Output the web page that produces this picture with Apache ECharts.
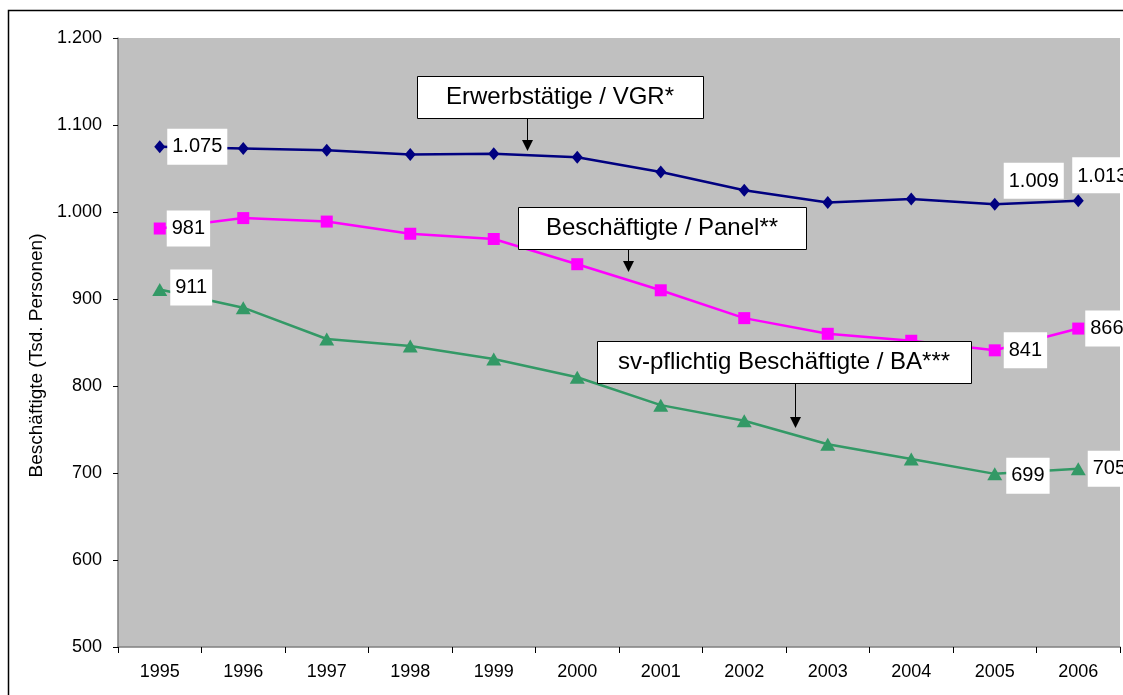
<!DOCTYPE html>
<html>
<head>
<meta charset="utf-8">
<title>Beschäftigte</title>
<script src="https://cdn.jsdelivr.net/npm/echarts@6/dist/echarts.min.js"></script>
<style>
html, body { margin: 0; padding: 0; background: #fff; }
#container { width: 1123px; height: 695px; }
</style>
</head>
<body>
<div id="container"></div>
<script>
// Jahre
var years = ['1995', '1996', '1997', '1998', '1999', '2000', '2001', '2002', '2003', '2004', '2005', '2006'];
// Erwerbstätige / VGR*
var vgr = [1075, 1073, 1071, 1066, 1067, 1063, 1046, 1025, 1011, 1015, 1009, 1013];
// Beschäftigte / Panel**
var panel = [981, 993, 989, 975, 969, 940, 910, 878, 860, 852, 841, 866];
// sv-pflichtig Beschäftigte / BA***
var ba = [911, 890, 854, 846, 831, 810, 778, 760, 733, 716, 699, 705];

var fmt = function (v) {
	return String(v).replace(/\B(?=(\d{3})+(?!\d))/g, '.');
};

var labelBase = {
	show: true,
	color: '#000',
	fontFamily: 'Liberation Sans',
	fontSize: 20,
	backgroundColor: '#fff',
	padding: [9, 5, 7, 5],
	formatter: function (p) { return fmt(p.value); }
};

// nur bestimmte Punkte beschriften
function withLabels(values, labels) {
	return values.map(function (v, i) {
		if (labels[i]) {
			return { value: v, label: Object.assign({}, labelBase, labels[i]) };
		}
		return v;
	});
}

var myChart = echarts.init(document.getElementById('container'));

var option = {
	animation: false,
	backgroundColor: '#fff',
	grid: { left: 118, top: 38, right: 3, bottom: 48, show: true, backgroundColor: '#C0C0C0', borderWidth: 0 },
	xAxis: {
		type: 'category',
		data: years,
		boundaryGap: true,
		axisLine: { lineStyle: { color: '#808080', width: 1.5 } },
		axisTick: { show: true, length: 6, lineStyle: { color: '#000' } },
		axisLabel: { color: '#000', fontSize: 18, fontFamily: 'Liberation Sans', margin: 16 }
	},
	yAxis: {
		type: 'value',
		min: 500,
		max: 1200,
		interval: 100,
		name: 'Beschäftigte (Tsd. Personen)',
		nameLocation: 'middle',
		nameGap: 72,
		nameTextStyle: { color: '#000', fontSize: 19, fontFamily: 'Liberation Sans', padding: [0, 26, 0, 0] },
		axisLine: { show: true, lineStyle: { color: '#808080', width: 1.5 } },
		axisTick: { show: true, length: 5, lineStyle: { color: '#000' } },
		splitLine: { show: false },
		axisLabel: { color: '#000', fontSize: 18, fontFamily: 'Liberation Sans', margin: 16, formatter: fmt }
	},
	series: [
		{
			name: 'Erwerbstätige / VGR*',
			type: 'line',
			symbol: 'diamond',
			symbolSize: [11, 13],
			lineStyle: { color: '#000080', width: 2.5 },
			itemStyle: { color: '#000080' },
			data: withLabels(vgr, {
				0: { position: 'right', distance: 2 },
				10: { position: 'top', offset: [39, 6] },
				11: { position: 'top', offset: [24, 4] }
			})
		},
		{
			name: 'Beschäftigte / Panel**',
			type: 'line',
			symbol: 'rect',
			symbolSize: 12,
			lineStyle: { color: '#FF00FF', width: 2.5 },
			itemStyle: { color: '#FF00FF' },
			data: withLabels(panel, {
				0: { position: 'right', distance: 1 },
				10: { position: 'right', distance: 3 },
				11: { position: 'right', distance: 1 }
			})
		},
		{
			name: 'sv-pflichtig Beschäftigte / BA***',
			type: 'line',
			symbol: 'triangle',
			symbolSize: [15, 13],
			lineStyle: { color: '#339966', width: 2.5 },
			itemStyle: { color: '#339966' },
			data: withLabels(ba, {
				0: { position: 'right', distance: 3, offset: [0, -2] },
				10: { position: 'right', distance: 4, offset: [0, 2] },
				11: { position: 'right', distance: 2 }
			})
		}
	],
	graphic: [
		// Rahmen
		{ type: 'rect', z: 100, silent: true, shape: { x: 8.5, y: 10.5, width: 1200, height: 800 },
			style: { fill: null, stroke: '#000', lineWidth: 1.5 } },
		// Beschriftungen mit Pfeilen
		{ type: 'rect', z: 100, shape: { x: 417.5, y: 76.5, width: 286, height: 42 }, style: { fill: '#fff', stroke: '#000', lineWidth: 1 } },
		{ type: 'text', z: 101, style: { x: 560, y: 97, text: 'Erwerbstätige / VGR*', align: 'center', verticalAlign: 'middle', font: '24px "Liberation Sans"', fill: '#000' } },
		{ type: 'line', z: 100, shape: { x1: 527.5, y1: 118, x2: 527.5, y2: 142 }, style: { stroke: '#000', lineWidth: 1 } },
		{ type: 'polygon', z: 100, shape: { points: [[522, 140], [533, 140], [527.5, 151]] }, style: { fill: '#000' } },

		{ type: 'rect', z: 100, shape: { x: 518.5, y: 207.5, width: 288, height: 42 }, style: { fill: '#fff', stroke: '#000', lineWidth: 1 } },
		{ type: 'text', z: 101, style: { x: 662, y: 228, text: 'Beschäftigte / Panel**', align: 'center', verticalAlign: 'middle', font: '24px "Liberation Sans"', fill: '#000' } },
		{ type: 'line', z: 100, shape: { x1: 628.5, y1: 249, x2: 628.5, y2: 263 }, style: { stroke: '#000', lineWidth: 1 } },
		{ type: 'polygon', z: 100, shape: { points: [[623, 261], [634, 261], [628.5, 272]] }, style: { fill: '#000' } },

		{ type: 'rect', z: 100, shape: { x: 597.5, y: 341.5, width: 374, height: 42 }, style: { fill: '#fff', stroke: '#000', lineWidth: 1 } },
		{ type: 'text', z: 101, style: { x: 784, y: 362, text: 'sv-pflichtig Beschäftigte / BA***', align: 'center', verticalAlign: 'middle', font: '24px "Liberation Sans"', fill: '#000' } },
		{ type: 'line', z: 100, shape: { x1: 795.5, y1: 383, x2: 795.5, y2: 419 }, style: { stroke: '#000', lineWidth: 1 } },
		{ type: 'polygon', z: 100, shape: { points: [[790, 417], [801, 417], [795.5, 428]] }, style: { fill: '#000' } }
	]
};

myChart.setOption(option);
</script>
</body>
</html>
